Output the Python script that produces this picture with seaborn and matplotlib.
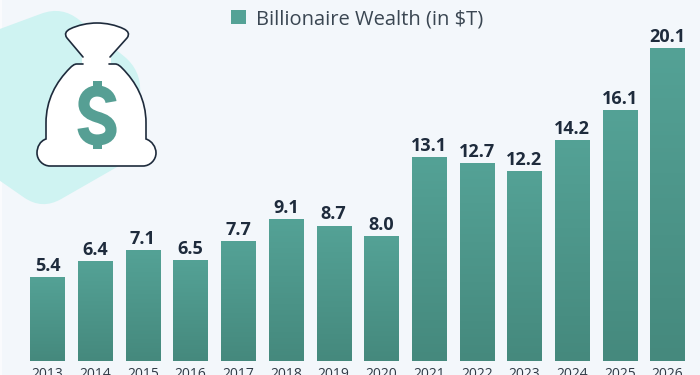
import matplotlib
matplotlib.use("Agg")
import matplotlib.pyplot as plt
from matplotlib.patches import PathPatch, Rectangle
from matplotlib.path import Path
import numpy as np
import pandas as pd
import seaborn as sns

years = ["2013", "2014", "2015", "2016", "2017", "2018", "2019",
         "2020", "2021", "2022", "2023", "2024", "2025", "2026"]
wealth = [5.4, 6.4, 7.1, 6.5, 7.7, 9.1, 8.7, 8.0, 13.1, 12.7, 12.2, 14.2, 16.1, 20.1]
series_name = "Billionaire Wealth (in $T)"

bg = "#f3f7fb"
bar_top = "#54a296"
bar_bottom = "#45897d"
dark = "#1e2b3c"
teal = "#569f94"

plt.rcParams["font.family"] = ["Open Sans", "DejaVu Sans"]

df = pd.DataFrame({"year": years, "wealth": wealth})

fig = plt.figure(figsize=(7, 3.75), dpi=100, facecolor=bg)

# icon layer, in pixels
icon = fig.add_axes([0, 0, 1, 1], zorder=0)
icon.set_xlim(0, 700)
icon.set_ylim(375, 0)
icon.axis("off")


def rounded(points, r):
    verts, codes = [], []
    n = len(points)
    for i in range(n):
        p = np.array(points[i], float)
        a = np.array(points[i - 1], float)
        b = np.array(points[(i + 1) % n], float)
        start = p + (a - p) / np.linalg.norm(a - p) * r
        end = p + (b - p) / np.linalg.norm(b - p) * r
        verts += [start, p, end]
        codes += [Path.MOVETO if i == 0 else Path.LINETO, Path.CURVE3, Path.CURVE3]
    verts.append(verts[0])
    codes.append(Path.CLOSEPOLY)
    return Path(verts, codes)


icon.add_patch(Rectangle((0, 0), 2, 375, fc="#fafbfd", ec="none"))
blob = [(-30, 40), (62, 6), (141, 70), (138, 155), (42, 210), (-30, 160)]
icon.add_patch(PathPatch(rounded(blob, 22), fc="#cff3f2", ec="none"))

M, L, C = Path.MOVETO, Path.LINETO, Path.CURVE4
neck = [(83, 57), (67, 38), (64, 34), (66, 31), (70, 29), (78, 25), (88, 23), (97, 23),
        (106, 23), (116, 25), (124, 29), (128, 31), (130, 34), (127, 38), (110, 57)]
neck_c = [M, L] + [C] * 12 + [L]
body = [(83, 64), (77, 64), (74, 64), (72, 66), (70, 68), (56, 82), (46, 100), (46, 123),
        (46, 139), (40, 141), (37, 147), (37, 153), (37, 160), (43, 166), (50, 166),
        (143, 166), (150, 166), (156, 160), (156, 153), (156, 147), (152, 141), (146, 139),
        (146, 123), (146, 100), (136, 82), (122, 68), (120, 66), (118, 64), (115, 64),
        (109, 64)]
body_c = [M, L] + [C] * 6 + [L] + [C] * 6 + [L] + [C] * 6 + [L] + [C] * 6 + [L]

# white shape under the outline
icon.add_patch(PathPatch(Path(body, body_c), fc="white", ec="none"))
icon.add_patch(PathPatch(Path(neck, neck_c), fc="white", ec="none"))
icon.add_patch(Rectangle((82, 55), 29, 12, fc="white", ec="none"))
icon.add_patch(PathPatch(Path(neck, neck_c), fc="none", ec=dark, lw=1.2, capstyle="round"))
icon.add_patch(PathPatch(Path(body, body_c), fc="none", ec=dark, lw=1.2, capstyle="round"))

# dollar icon drawn as a thick stroke with two stubs
s_curve = [(111, 102), (110, 95), (104, 91), (97, 91), (90, 91), (84, 96), (84, 104),
           (84, 112), (91, 115), (97, 117), (104, 119), (111, 122), (111, 130),
           (111, 137), (104, 140), (97, 140), (90, 140), (84, 136), (83, 128)]
icon.add_patch(PathPatch(Path(s_curve, [M] + [C] * 18), fc="none", ec=teal, lw=8,
                         capstyle="butt"))
icon.add_patch(Rectangle((92.5, 81), 9, 8, fc=teal, ec="none"))
icon.add_patch(Rectangle((92.5, 142), 9, 7, fc=teal, ec="none"))

# chart, baseline at y=361px
ax = fig.add_axes([0, 14 / 375, 1, 361 / 375], zorder=1)
ax.patch.set_alpha(0)
sns.barplot(data=df, x="year", y="wealth", color=bar_top, width=0.72, ax=ax)

# vertical fade on the bars
fade = np.linspace(0, 1, 256).reshape(-1, 1)
cmap = matplotlib.colors.LinearSegmentedColormap.from_list("fade", [bar_bottom, bar_top])
for bar in list(ax.patches):
    x0, w, h = bar.get_x(), bar.get_width(), bar.get_height()
    im = ax.imshow(fade, origin="lower", extent=(x0, x0 + w, 0, h), cmap=cmap,
                   aspect="auto", zorder=2)
    im.set_clip_path(bar)
ax.set_xlim(-0.996, 13.68)
ax.set_ylim(0, 23.18)

ax.bar_label(ax.containers[0], labels=[f"{v:.1f}" for v in wealth], padding=1.5,
             fontsize=13, fontweight="bold", color=dark)

sns.despine(ax=ax, left=True, bottom=True)
ax.set_xlabel("")
ax.set_ylabel("")
ax.set_yticks([])
ax.tick_params(axis="x", length=0, pad=4, labelsize=10, labelcolor="#2f3a46")

handle = Rectangle((0, 0), 1, 1, fc=bar_top, ec="none")
fig.legend([handle], [series_name], loc="center", bbox_to_anchor=(357 / 700, 1 - 19 / 375),
           frameon=False, fontsize=14.5, labelcolor="#3a4652", handlelength=0.75,
           handleheight=0.75, handletextpad=0.5, borderpad=0)

fig.savefig("out.png", dpi=100, facecolor=bg)
